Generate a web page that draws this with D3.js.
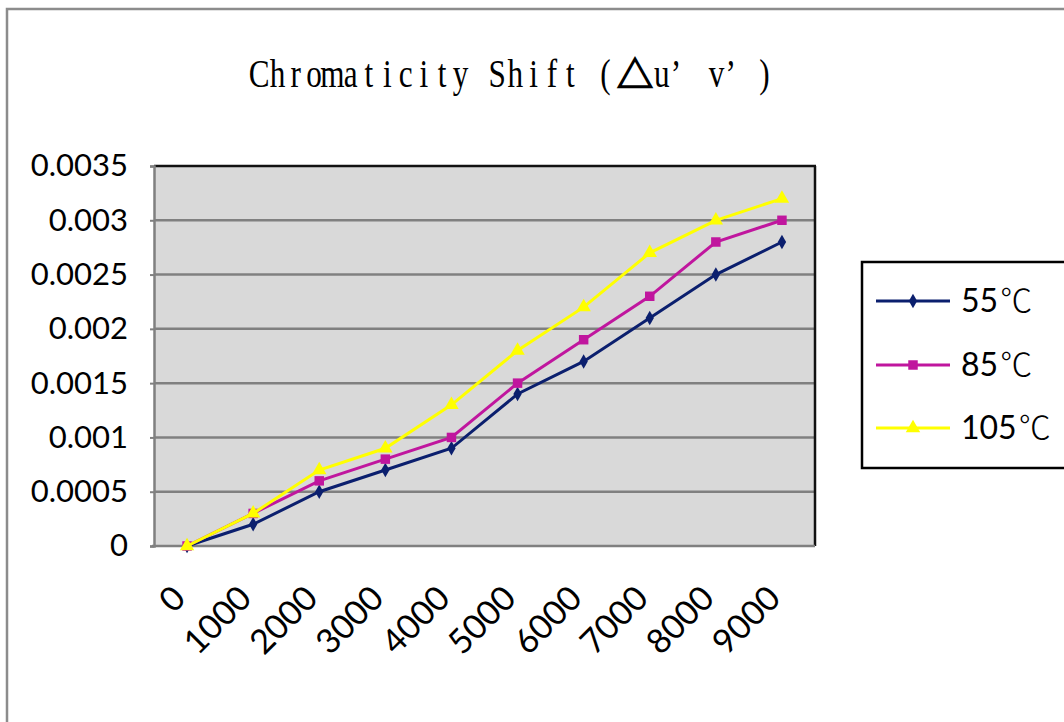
<!DOCTYPE html>
<html lang="en">
<head>
  <meta charset="UTF-8">
  <title>Chromaticity Shift</title>
  <script src="https://d3js.org/d3.v7.min.js"></script>
  <style>
    body { margin: 0; background: #fff; }
    svg { display: block; }
  </style>
</head>
<body>
<script>
  // chart data
  const hours = ["0", "1000", "2000", "3000", "4000", "5000", "6000", "7000", "8000", "9000"];
  const s55 = [0, 0.0002, 0.0005, 0.0007, 0.0009, 0.0014, 0.0017, 0.0021, 0.0025, 0.0028];
  const s85 = [0, 0.0003, 0.0006, 0.0008, 0.0010, 0.0015, 0.0019, 0.0023, 0.0028, 0.0030];
  const s105 = [0, 0.0003, 0.0007, 0.0009, 0.0013, 0.0018, 0.0022, 0.0027, 0.0030, 0.0032];
  const yTicks = [0, 0.0005, 0.001, 0.0015, 0.002, 0.0025, 0.003, 0.0035];
  const yTickLabels = ["0", "0.0005", "0.001", "0.0015", "0.002", "0.0025", "0.003", "0.0035"];
  const seriesNames = ["55", "85", "105"];
  const titleText = "Chromaticity Shift\uFF08\u25B3u\u2019v\u2019\uFF09";

  const series = [
    { name: seriesNames[0], values: s55, color: '#0b1f6e', symbol: d3.symbolDiamond, size: 60 },
    { name: seriesNames[1], values: s85, color: '#c0169e', symbol: d3.symbolSquare, size: 90 },
    { name: seriesNames[2], values: s105, color: '#ffff00', symbol: d3.symbolTriangle, size: 90 }
  ];

  const W = 1064, H = 722;
  const plot = { left: 154, top: 166, right: 815, bottom: 546 };

  const svg = d3.select('body').append('svg')
    .attr('width', W)
    .attr('height', H);

  // outer chart border (right and bottom fall outside the picture)
  svg.append('rect')
    .attr('x', 7).attr('y', 9)
    .attr('width', W + 20).attr('height', H + 20)
    .attr('fill', '#fff')
    .attr('stroke', '#8c8c8c')
    .attr('stroke-width', 2.5);

  // title, laid out on a fixed pitch like the original CJK font
  const pitch = 18.3;
  const titleG = svg.append('g');
  let cx = 250;
  const fullGlyph = {
    '\uFF08': { ch: '(', off: 26 },
    '\u25B3': { ch: '\u25B3', off: 19 },
    '\u2019': { ch: '\u2019', off: 5 },
    '\uFF09': { ch: ')', off: 2 }
  };
  Array.from(titleText).forEach(c => {
    const fw = fullGlyph[c];
    const t = titleG.append('text')
      .attr('text-anchor', 'middle')
      .attr('fill', '#000');
    if (c === '\u25B3') {
      t.attr('transform', `translate(${cx + fw.off},88)`)
        .style('font-family', '"Noto Sans CJK SC", sans-serif')
        .style('font-size', '36px')
        .attr('stroke', '#000')
        .attr('stroke-width', 1.6)
        .text(fw.ch);
    } else {
      const px = fw ? cx + fw.off : cx + pitch / 2;
      t.attr('transform', `translate(${px},87) scale(0.8,1)`)
        .style('font-family', '"Liberation Serif", "DejaVu Serif", serif')
        .style('font-size', '39px')
        .text(fw ? fw.ch : c);
    }
    cx += fw ? pitch * 2 : pitch;
  });

  const x = d3.scaleBand()
    .domain(hours)
    .range([plot.left, plot.right]);

  const y = d3.scaleLinear()
    .domain([0, 0.0035])
    .range([plot.bottom, plot.top]);

  // plot background
  svg.append('rect')
    .attr('x', plot.left).attr('y', plot.top)
    .attr('width', plot.right - plot.left)
    .attr('height', plot.bottom - plot.top)
    .attr('fill', '#d9d9d9');

  // gridlines
  svg.append('g')
    .selectAll('line')
    .data(yTicks.slice(1, -1))
    .enter().append('line')
    .attr('x1', plot.left).attr('x2', plot.right)
    .attr('y1', d => y(d)).attr('y2', d => y(d))
    .attr('stroke', '#808080')
    .attr('stroke-width', 2.5);

  // frame: top and right dark, left and bottom gray
  svg.append('line')
    .attr('x1', plot.left).attr('x2', plot.right + 1)
    .attr('y1', plot.top).attr('y2', plot.top)
    .attr('stroke', '#111').attr('stroke-width', 2.5);
  svg.append('line')
    .attr('x1', plot.right).attr('x2', plot.right)
    .attr('y1', plot.top).attr('y2', plot.bottom)
    .attr('stroke', '#111').attr('stroke-width', 2.5);

  // y axis
  const yAxis = svg.append('g')
    .attr('transform', `translate(${plot.left},0)`)
    .call(d3.axisLeft(y).tickValues(yTicks).tickFormat((d, i) => yTickLabels[i]).tickSize(4).tickPadding(22));
  yAxis.select('.domain').attr('stroke', '#808080').attr('stroke-width', 2.5);
  yAxis.selectAll('.tick line').attr('stroke', '#808080').attr('stroke-width', 2);
  yAxis.selectAll('text')
    .style('font-family', 'Lato, "Open Sans", sans-serif')
    .style('font-size', '31px')
    .attr('fill', '#000');

  // x axis line
  svg.append('line')
    .attr('x1', plot.left - 2).attr('x2', plot.right)
    .attr('y1', plot.bottom).attr('y2', plot.bottom)
    .attr('stroke', '#808080').attr('stroke-width', 2.5);

  // x labels rotated
  svg.append('g')
    .selectAll('text')
    .data(hours)
    .enter().append('text')
    .attr('transform', d => `translate(${x(d) + x.bandwidth() / 2 - 8},${plot.bottom + 46}) rotate(-45)`)
    .attr('text-anchor', 'end')
    .attr('dy', '0.35em')
    .style('font-family', 'Lato, "Open Sans", sans-serif')
    .style('font-size', '34px')
    .attr('fill', '#000')
    .text(d => d);

  const line = d3.line()
    .x((d, i) => x(hours[i]) + x.bandwidth() / 2)
    .y(d => y(d));

  // lines and markers
  series.forEach(s => {
    svg.append('path')
      .datum(s.values)
      .attr('d', line)
      .attr('fill', 'none')
      .attr('stroke', s.color)
      .attr('stroke-width', 3);

    svg.append('g')
      .selectAll('path')
      .data(s.values)
      .enter().append('path')
      .attr('d', d3.symbol().type(s.symbol).size(s.size))
      .attr('transform', (d, i) => `translate(${x(hours[i]) + x.bandwidth() / 2},${y(d)})`)
      .attr('fill', s.color);
  });

  // legend
  const legend = svg.append('g');
  legend.append('rect')
    .attr('x', 862).attr('y', 262)
    .attr('width', 220).attr('height', 206)
    .attr('fill', '#fff')
    .attr('stroke', '#000')
    .attr('stroke-width', 2.5);

  const rows = [301, 365, 428];
  series.forEach((s, i) => {
    const ly = rows[i];
    legend.append('line')
      .attr('x1', 876).attr('x2', 950)
      .attr('y1', ly).attr('y2', ly)
      .attr('stroke', s.color).attr('stroke-width', 3);
    legend.append('path')
      .attr('d', d3.symbol().type(s.symbol).size(s.size))
      .attr('transform', `translate(913,${ly})`)
      .attr('fill', s.color);
    const t = legend.append('text')
      .attr('x', 961).attr('y', ly)
      .attr('dy', '0.35em')
      .style('font-family', 'Lato, "Open Sans", sans-serif')
      .style('font-size', '32px')
      .attr('fill', '#000');
    t.append('tspan').text(s.name);
    t.append('tspan')
      .attr('dx', 2)
      .style('font-family', '"Noto Sans CJK SC", sans-serif')
      .style('font-size', '32px')
      .style('font-weight', '300')
      .text('\u2103');
  });
</script>
</body>
</html>
